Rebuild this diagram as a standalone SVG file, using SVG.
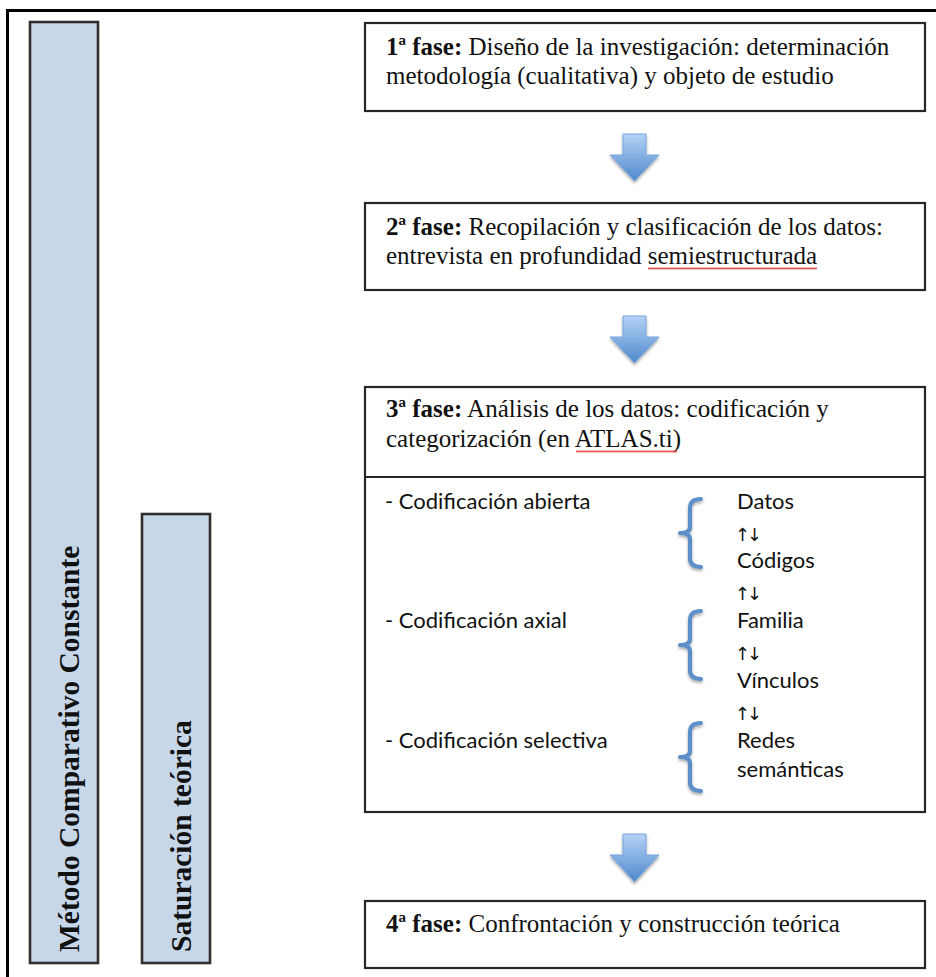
<svg xmlns="http://www.w3.org/2000/svg" width="936" height="977" viewBox="0 0 936 977">
  <style>
    .frame { fill: none; stroke: #000; stroke-width: 3; }
    .bar { fill: #c6d7ea; stroke: #2e2e2e; stroke-width: 2.6; }
    .box { fill: #fff; stroke: #262626; stroke-width: 2.2; }
    .sep { stroke: #262626; stroke-width: 2.2; }
    .serif { font-family: "Liberation Serif", "Times New Roman", serif; font-size: 25px; fill: #111; }
    .b { font-weight: bold; }
    .vert { font-family: "Liberation Serif", "Times New Roman", serif; font-size: 29.5px; font-weight: bold; fill: #111; }
    .sans { font-family: Lato, "DejaVu Sans", sans-serif; font-size: 22px; fill: #111; }
    .arr { font-family: "DejaVu Sans", sans-serif; font-size: 18px; fill: #111; letter-spacing: -3px; }
    .brace { fill: none; stroke: #5b8fca; stroke-width: 4; stroke-linecap: round; stroke-linejoin: round; }
    .flow { fill: url(#arrowFill); stroke: #79a5dc; stroke-width: 1; }
  </style>
  <defs>
    <linearGradient id="arrowFill" x1="0" y1="0" x2="0" y2="1">
      <stop offset="0" stop-color="#b4d2f6"/>
      <stop offset="1" stop-color="#4f88cc"/>
    </linearGradient>
    <filter id="soft" x="-30%" y="-30%" width="160%" height="160%">
      <feGaussianBlur in="SourceAlpha" stdDeviation="1.5"/>
      <feOffset dy="1.5" result="sh"/>
      <feComponentTransfer><feFuncA type="linear" slope="0.35"/></feComponentTransfer>
      <feMerge><feMergeNode/><feMergeNode in="SourceGraphic"/></feMerge>
    </filter>
    <pattern id="squiggle" x="0" y="0" width="4" height="3" patternUnits="userSpaceOnUse">
      <path d="M0 2.5 L1 0.5 L2 2.5 L3 0.5 L4 2.5" fill="none" stroke="#e0282a" stroke-width="0.8"/>
    </pattern>
  </defs>

  <!-- page frame -->
  <path class="frame" d="M7.5 980 V10.5 H940"/>

  <!-- left side bars -->
  <g id="metodo-comparativo">
    <rect class="bar" x="30" y="22" width="68" height="941"/>
    <text class="vert" transform="translate(79 952) rotate(-90)">Método Comparativo Constante</text>
  </g>
  <g id="saturacion">
    <rect class="bar" x="142" y="514" width="68" height="449"/>
    <text class="vert" transform="translate(191 952) rotate(-90)">Saturación teórica</text>
  </g>

  <!-- phase boxes -->
  <g id="fase1">
    <rect class="box" x="365" y="23" width="560" height="88"/>
    <text class="serif" x="386" y="55"><tspan class="b">1ª fase:</tspan> Diseño de la investigación: determinación</text>
    <text class="serif" x="386" y="84">metodología (cualitativa) y objeto de estudio</text>
  </g>

  <g id="fase2">
    <rect class="box" x="365" y="203" width="560" height="87"/>
    <text class="serif" x="386" y="235"><tspan class="b">2ª fase:</tspan> Recopilación y clasificación de los datos:</text>
    <text class="serif" x="386" y="264">entrevista en profundidad semiestructurada</text>
    <rect x="648" y="267" width="169" height="3" fill="url(#squiggle)"/>
  </g>

  <g id="fase3">
    <rect class="box" x="365" y="387" width="560" height="425"/>
    <line class="sep" x1="365" y1="477" x2="925" y2="477"/>
    <text class="serif" x="386" y="417"><tspan class="b">3ª fase:</tspan> Análisis de los datos: codificación y</text>
    <text class="serif" x="386" y="447">categorización (en ATLAS.ti)</text>
    <rect x="576" y="450" width="101" height="3" fill="url(#squiggle)"/>

    <text class="sans" x="385" y="509">- Codificación abierta</text>
    <text class="sans" x="385" y="628">- Codificación axial</text>
    <text class="sans" x="385" y="748">- Codificación selectiva</text>

    <text class="sans" x="737" y="509">Datos</text>
    <text class="arr" x="735" y="541">↑↓</text>
    <text class="sans" x="737" y="568">Códigos</text>
    <text class="arr" x="735" y="600">↑↓</text>
    <text class="sans" x="737" y="628">Familia</text>
    <text class="arr" x="735" y="660">↑↓</text>
    <text class="sans" x="737" y="688">Vínculos</text>
    <text class="arr" x="735" y="720">↑↓</text>
    <text class="sans" x="737" y="748">Redes</text>
    <text class="sans" x="737" y="777">semánticas</text>

    <g filter="url(#soft)">
      <path class="brace" d="M701 499 Q690 499 690 508 V527 Q690 533 680 533 Q690 533 690 539 V558 Q690 567 701 567"/>
      <path class="brace" d="M701 611 Q690 611 690 620 V639 Q690 645 680 645 Q690 645 690 651 V670 Q690 679 701 679"/>
      <path class="brace" d="M701 723 Q690 723 690 732 V751 Q690 757 680 757 Q690 757 690 763 V782 Q690 791 701 791"/>
    </g>
  </g>

  <g id="fase4">
    <rect class="box" x="365" y="901" width="560" height="67"/>
    <text class="serif" x="386" y="932"><tspan class="b">4ª fase:</tspan> Confrontación y construcción teórica</text>
  </g>

  <!-- flow arrows between phases -->
  <g id="connectors" filter="url(#soft)">
    <polygon class="flow" points="623,134 646,134 646,155 659,155 634.5,181 610,155 623,155"/>
    <polygon class="flow" points="623,316 646,316 646,337 659,337 634.5,363 610,337 623,337"/>
    <polygon class="flow" points="623,834 646,834 646,855 659,855 634.5,882 610,855 623,855"/>
  </g>
</svg>
